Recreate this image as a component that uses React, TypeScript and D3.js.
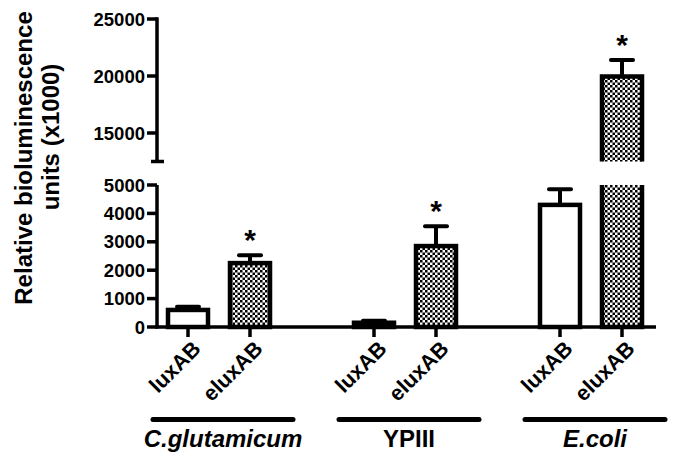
import React from 'react';
import * as d3 from 'd3';

// strains (groups) and constructs
const groups = ['C.glutamicum', 'YPIII', 'E.coli'];
const groupItalic = [true, false, true];
const constructs = ['luxAB', 'eluxAB'];

// relative bioluminescence units (x1000), mean and SD
const luxMeans = [600, 150, 4300];
const luxErrors = [110, 70, 550];
const eluxMeans = [2250, 2850, 19950];
const eluxErrors = [280, 700, 1450];
const eluxSignificant = [true, true, true];

const lowTicks = [0, 1000, 2000, 3000, 4000, 5000];
const highTicks = [15000, 20000, 25000];

const W = 673;
const H = 463;
const FONT = '"Liberation Sans", Arial, Helvetica, sans-serif';

export default function App() {
  const axisX = 157;
  const baseY = 327;
  const yLow = d3.scaleLinear().domain([0, 5000]).range([baseY, 185]);
  const yHigh = d3.scaleLinear().domain([12500, 25000]).range([161.5, 19]);
  const breakLow = 5000;

  const x = d3.scaleBand<number>()
    .domain(d3.range(8))
    .range([axisX, 653])
    .padding(0);
  const barW = 40;

  const bars = [];
  groups.forEach((g, gi) => {
    constructs.forEach((c, ci) => {
      const mean = ci === 0 ? luxMeans[gi] : eluxMeans[gi];
      const err = ci === 0 ? luxErrors[gi] : eluxErrors[gi];
      const slot = gi * 3 + ci;
      bars.push({
        group: g, gi, construct: c, mean, err, slot,
        cx: x(slot)! + x.bandwidth() / 2,
        star: ci === 1 && eluxSignificant[gi],
      });
    });
  });

  const yOf = (v: number) => (v <= breakLow ? yLow(v) : yHigh(v));

  return (
    <svg width={W} height={H} style={{ position: 'absolute', left: 0, top: 0, background: '#fff' }}
         fontFamily={FONT}>
      <defs>
        <pattern id="checker" width="5" height="5" patternUnits="userSpaceOnUse">
          <rect width="5" height="5" fill="#fff" />
          <rect width="2.5" height="2.5" fill="#000" />
          <rect x="2.5" y="2.5" width="2.5" height="2.5" fill="#000" />
        </pattern>
      </defs>

      {/* bars */}
      {bars.map((b, i) => {
        const x0 = b.cx - barW / 2;
        const x1 = b.cx + barW / 2;
        const fill = b.construct === 'eluxAB' ? 'url(#checker)' : '#fff';
        const errTop = yOf(b.mean + b.err);
        const top = yOf(b.mean);
        return (
          <g key={i}>
            <line x1={b.cx} x2={b.cx} y1={top} y2={errTop} stroke="#000" strokeWidth={4} />
            <line x1={b.cx - 11} x2={b.cx + 11} y1={errTop} y2={errTop} stroke="#000"
                  strokeWidth={4} strokeLinecap="round" />
            {b.mean <= breakLow ? (
              <rect x={x0} y={top} width={barW} height={baseY - top} fill={fill}
                    stroke="#000" strokeWidth={4.5} />
            ) : (
              <g>
                <rect x={x0} y={top} width={barW} height={yHigh(12500) - top} fill={fill} />
                <rect x={x0} y={yLow(breakLow)} width={barW} height={baseY - yLow(breakLow)} fill={fill} />
                <path d={`M${x0},${yHigh(12500)}V${top}H${x1}V${yHigh(12500)}`}
                      fill="none" stroke="#000" strokeWidth={4.5} />
                <path d={`M${x0},${yLow(breakLow)}V${baseY}H${x1}V${yLow(breakLow)}`}
                      fill="none" stroke="#000" strokeWidth={4.5} />
              </g>
            )}
            {b.star && (
              <text x={b.cx} y={errTop - 5} textAnchor="middle" fontSize={30}
                    fontWeight="bold">*</text>
            )}
          </g>
        );
      })}

      {/* y axis, lower segment */}
      <line x1={axisX} x2={axisX} y1={yLow(5000)} y2={baseY + 1.5} stroke="#000" strokeWidth={3.5} />
      {lowTicks.map(t => (
        <g key={t} transform={`translate(0,${yLow(t)})`}>
          <line x1={axisX - 10} x2={axisX} stroke="#000" strokeWidth={3.5} />
          <text x={axisX - 12} dy="0.36em" textAnchor="end" fontSize={18.5} fontWeight="bold">{t}</text>
        </g>
      ))}

      {/* y axis, upper segment */}
      <line x1={axisX} x2={axisX} y1={yHigh(25000) - 1.75} y2={yHigh(12500)} stroke="#000" strokeWidth={3.5} />
      <line x1={axisX - 6} x2={axisX + 7} y1={yHigh(12500)} y2={yHigh(12500)} stroke="#000" strokeWidth={3.5} />
      {highTicks.map(t => (
        <g key={t} transform={`translate(0,${yHigh(t)})`}>
          <line x1={axisX - 10} x2={axisX} stroke="#000" strokeWidth={3.5} />
          <text x={axisX - 12} dy="0.36em" textAnchor="end" fontSize={18.5} fontWeight="bold">{t}</text>
        </g>
      ))}

      {/* x axis */}
      <line x1={axisX - 1.75} x2={656} y1={baseY} y2={baseY} stroke="#000" strokeWidth={3.5} />
      {bars.map((b, i) => (
        <g key={i}>
          <line x1={b.cx} x2={b.cx} y1={baseY} y2={baseY + 10} stroke="#000" strokeWidth={3.5} />
          <text transform={`translate(${b.cx + 14},${baseY + 23}) rotate(-45)`} textAnchor="end"
                fontSize={21.5} fontWeight="bold">{b.construct}</text>
        </g>
      ))}

      {/* group underlines and names */}
      {groups.map((g, gi) => {
        const c = (x(gi * 3)! + x(gi * 3 + 1)! + x.bandwidth()) / 2 + 4;
        return (
          <g key={g}>
            <line x1={c - 70} x2={c + 70} y1={419.5} y2={419.5} stroke="#000" strokeWidth={5}
                  strokeLinecap="round" />
            <text x={c} y={447} textAnchor="middle" fontSize={24} fontWeight="bold"
                  fontStyle={groupItalic[gi] ? 'italic' : 'normal'}>{g}</text>
          </g>
        );
      })}

      {/* y axis title */}
      <text transform="translate(32,158) rotate(-90)" textAnchor="middle" fontSize={24}
            fontWeight="bold">Relative bioluminescence</text>
      <text transform="translate(59,137) rotate(-90)" textAnchor="middle" fontSize={24}
            fontWeight="bold">units (x1000)</text>
    </svg>
  );
}
